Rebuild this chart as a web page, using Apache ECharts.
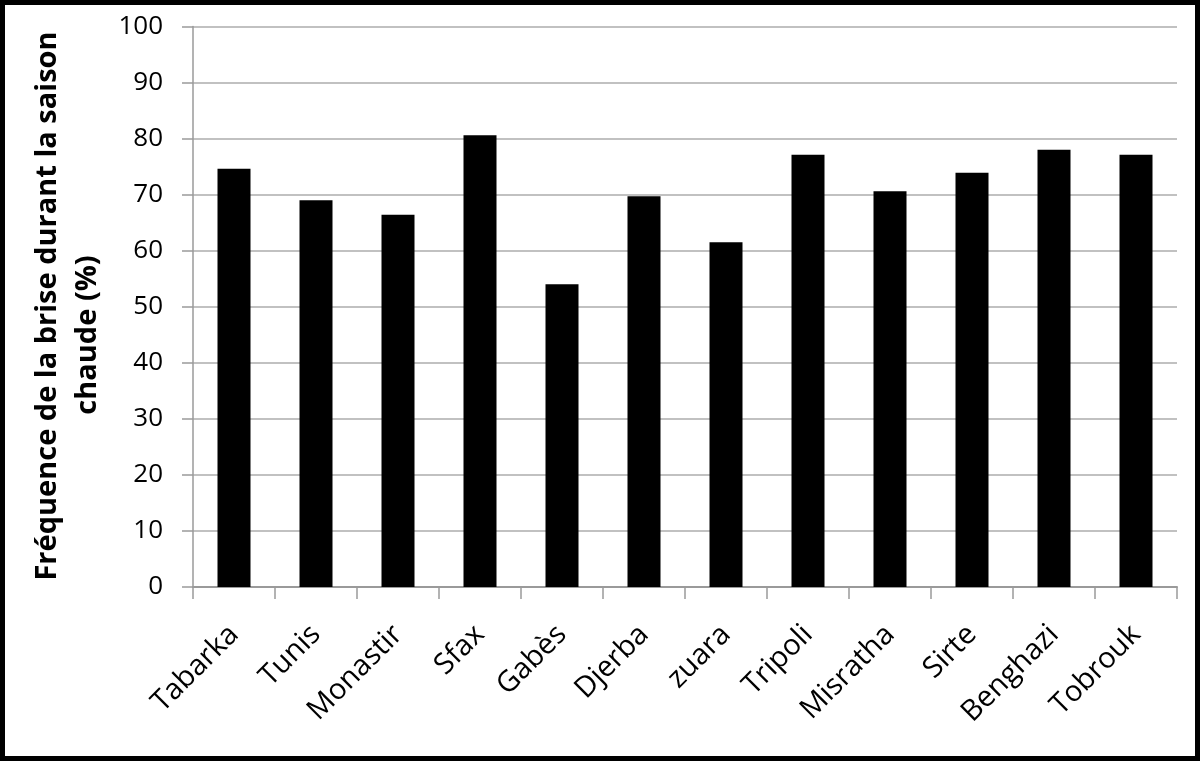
<!DOCTYPE html>
<html>
<head>
<meta charset="utf-8">
<script src="https://cdn.jsdelivr.net/npm/echarts@6/dist/echarts.min.js"></script>
<style>
    html, body { margin: 0; padding: 0; background: #fff; }
    #chart { width: 1200px; height: 761px; }
</style>
</head>
<body>
<div id="chart"></div>
<script>
// stations
var stations = ['Tabarka', 'Tunis', 'Monastir', 'Sfax', 'Gabès', 'Djerba', 'zuara', 'Tripoli', 'Misratha', 'Sirte', 'Benghazi', 'Tobrouk'];
// fréquence de la brise (%)
var frequence = [74.6, 69.0, 66.4, 80.6, 54.0, 69.7, 61.5, 77.1, 70.6, 73.9, 78.0, 77.1];
var yTitle1 = 'Fréquence de la brise durant la saison';
var yTitle2 = 'chaude (%)';

var myChart = echarts.init(document.getElementById('chart'));
var option = {
    backgroundColor: '#fff',
    animation: false,
    textStyle: {
        fontFamily: 'Open Sans'
    },
    grid: {
        left: 193,
        right: 23,
        top: 26.5,
        bottom: 174,
        containLabel: false
    },
    xAxis: {
        type: 'category',
        data: stations,
        axisLine: {
            lineStyle: { color: '#9a9a9a', width: 2 }
        },
        axisTick: {
            show: true,
            length: 12,
            lineStyle: { color: '#9a9a9a', width: 1.5 }
        },
        axisLabel: {
            interval: 0,
            rotate: 45,
            margin: 43,
            fontSize: 29,
            color: '#000'
        },
        splitLine: { show: false }
    },
    yAxis: {
        type: 'value',
        min: 0,
        max: 100,
        interval: 10,
        axisLine: {
            show: true,
            lineStyle: { color: '#9a9a9a', width: 1.5 }
        },
        axisTick: {
            show: true,
            length: 11,
            lineStyle: { color: '#9a9a9a', width: 1.5 }
        },
        axisLabel: {
            margin: 30,
            fontSize: 26,
            color: '#000'
        },
        splitLine: {
            lineStyle: { color: '#acacac', width: 1.5 }
        }
    },
    series: [
        {
            type: 'bar',
            data: frequence,
            barWidth: 33,
            itemStyle: { color: '#000' }
        }
    ],
    graphic: [
        {
            type: 'rect',
            shape: { x: 2.5, y: 2.5, width: 1195, height: 756 },
            style: { fill: 'none', stroke: '#000', lineWidth: 5 },
            z: 100
        },
        {
            type: 'text',
            x: 48,
            y: 306,
            rotation: Math.PI / 2,
            style: {
                text: yTitle1,
                fontFamily: 'Open Sans',
                fontWeight: 'bold',
                fontSize: 29,
                fill: '#000',
                align: 'center',
                verticalAlign: 'middle'
            }
        },
        {
            type: 'text',
            x: 88,
            y: 335,
            rotation: Math.PI / 2,
            style: {
                text: yTitle2,
                fontFamily: 'Open Sans',
                fontWeight: 'bold',
                fontSize: 29,
                fill: '#000',
                align: 'center',
                verticalAlign: 'middle'
            }
        }
    ]
};
myChart.setOption(option);
</script>
</body>
</html>
